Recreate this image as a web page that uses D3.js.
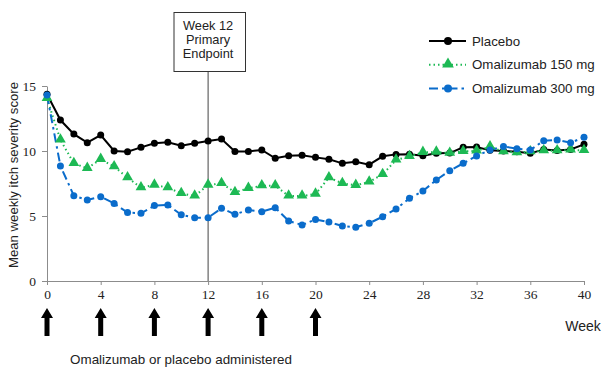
<!DOCTYPE html>
<html>
<head>
<meta charset="utf-8">
<script src="https://cdn.jsdelivr.net/npm/d3@7"></script>
<style>
  body { margin: 0; background: #fff; }
  svg { display: block; }
  .sans { font-family: Arial, "Liberation Sans", sans-serif; fill: #222; }
  .tick text { font-family: "Times New Roman", "Liberation Serif", serif; font-size: 13.5px; fill: #222; }
</style>
</head>
<body>
<svg width="608" height="370"></svg>
<script>
// weeks 0..40
var weeks = d3.range(0, 41);

var placebo = [14.36, 12.38, 11.3, 10.64, 11.23, 10.0, 9.95, 10.28, 10.59, 10.67,
  10.41, 10.59, 10.77, 10.92, 9.97, 9.97, 10.08, 9.44, 9.64, 9.67,
  9.51, 9.37, 9.05, 9.18, 8.95, 9.59, 9.74, 9.75, 9.63, 9.82,
  9.84, 10.28, 10.3, 10.05, 10.0, 9.95, 9.82, 10.12, 10.03, 10.12, 10.51];

var oma150 = [14.05, 10.85, 9.05, 8.67, 9.36, 8.8, 7.95, 7.18, 7.38, 7.18,
  6.74, 6.54, 7.38, 7.51, 6.82, 7.13, 7.33, 7.33, 6.54, 6.54,
  6.69, 7.95, 7.51, 7.36, 7.62, 8.2, 9.31, 9.58, 9.9, 9.92,
  9.84, 9.97, 10.0, 10.33, 9.95, 9.88, 9.95, 10.03, 10.02, 10.08, 10.05];

var oma300 = [14.3, 8.85, 6.56, 6.23, 6.49, 5.97, 5.26, 5.21, 5.8, 5.85,
  5.09, 4.87, 4.87, 5.59, 5.13, 5.46, 5.33, 5.64, 4.62, 4.31,
  4.74, 4.53, 4.23, 4.13, 4.44, 4.95, 5.54, 6.36, 6.92, 7.77,
  8.49, 9.05, 9.62, 10.08, 10.35, 10.18, 10.08, 10.79, 10.85, 10.64, 11.05];

var xTicks = [0, 4, 8, 12, 16, 20, 24, 28, 32, 36, 40];
var yTicks = [0, 5, 10, 15];
var doseWeeks = [0, 4, 8, 12, 16, 20];
var endpointWeek = 12;
var endpointLines = ["Week 12", "Primary", "Endpoint"];

var series = [
  { name: "Placebo", values: placebo, color: "#000000", dash: null, marker: "circle" },
  { name: "Omalizumab 150 mg", values: oma150, color: "#1DB954", dash: "1.5,3", marker: "triangle" },
  { name: "Omalizumab 300 mg", values: oma300, color: "#0A6CCB", dash: "9,4,2.5,4", marker: "circle" }
];

var svg = d3.select("svg");

var x = d3.scaleLinear().domain([0, 40]).range([47, 584]);
var y = d3.scaleLinear().domain([0, 15]).range([281, 86]);

// axes
svg.append("g")
  .attr("transform", "translate(0," + y(0) + ")")
  .call(d3.axisBottom(x).tickValues(xTicks).tickSize(4).tickPadding(4).tickSizeOuter(0));
svg.append("g")
  .attr("transform", "translate(" + x(0) + ",0)")
  .call(d3.axisLeft(y).tickValues(yTicks).tickSize(5).tickPadding(6).tickSizeOuter(0));
svg.selectAll(".domain, .tick line").attr("stroke", "#8c8c8c");

// week 12 endpoint marker
svg.append("line")
  .attr("x1", x(endpointWeek)).attr("x2", x(endpointWeek))
  .attr("y1", 72).attr("y2", y(0))
  .attr("stroke", "#444").attr("stroke-width", 1);
svg.append("rect")
  .attr("x", 174).attr("y", 12.5).attr("width", 71.5).attr("height", 59)
  .attr("fill", "#fff").attr("stroke", "#333").attr("stroke-width", 1);
svg.selectAll(".endpoint")
  .data(endpointLines)
  .enter().append("text")
  .attr("class", "sans endpoint")
  .attr("x", x(endpointWeek)).attr("y", function(d, i) { return 30 + i * 14; })
  .attr("text-anchor", "middle")
  .style("font-size", "12.8px")
  .text(function(d) { return d; });

// lines and markers
var line = d3.line()
  .x(function(d, i) { return x(weeks[i]); })
  .y(function(d) { return y(d); });

var tri = d3.symbol().type(d3.symbolTriangle).size(50);

series.forEach(function(s) {
  svg.append("path")
    .attr("d", line(s.values))
    .attr("fill", "none")
    .attr("stroke", s.color)
    .attr("stroke-width", 2)
    .attr("stroke-dasharray", s.dash);
});

series.forEach(function(s) {
  var g = svg.append("g");
  if (s.marker === "circle") {
    g.selectAll("circle").data(s.values).enter().append("circle")
      .attr("cx", function(d, i) { return x(weeks[i]); })
      .attr("cy", function(d) { return y(d); })
      .attr("r", 3.5)
      .attr("fill", s.color);
  } else {
    g.selectAll("path").data(s.values).enter().append("path")
      .attr("d", tri)
      .attr("transform", function(d, i) { return "translate(" + x(weeks[i]) + "," + (y(d) - 0.5) + ")"; })
      .attr("fill", s.color);
  }
});

// legend
var legend = svg.append("g");
series.forEach(function(s, i) {
  var ly = 41 + i * 23.7;
  legend.append("line")
    .attr("x1", 429).attr("x2", 466).attr("y1", ly).attr("y2", ly)
    .attr("stroke", s.color).attr("stroke-width", 2)
    .attr("stroke-dasharray", s.dash);
  if (s.marker === "circle") {
    legend.append("circle").attr("cx", 448).attr("cy", ly).attr("r", 4).attr("fill", s.color);
  } else {
    legend.append("path").attr("d", d3.symbol().type(d3.symbolTriangle).size(60))
      .attr("transform", "translate(448," + (ly - 0.5) + ")").attr("fill", s.color);
  }
  legend.append("text")
    .attr("class", "sans")
    .attr("x", 472).attr("y", ly)
    .attr("dy", "0.35em")
    .style("font-size", "13.3px")
    .text(s.name);
});

// dose arrows
var arrow = "M0,0 L6,10 L2.5,10 L2.5,28 L-2.5,28 L-2.5,10 L-6,10 Z";
svg.selectAll(".dose")
  .data(doseWeeks)
  .enter().append("path")
  .attr("class", "dose")
  .attr("d", arrow)
  .attr("transform", function(d) { return "translate(" + x(d) + ",308)"; })
  .attr("fill", "#000");

// labels
svg.append("text")
  .attr("class", "sans")
  .attr("transform", "translate(13,175) rotate(-90)")
  .attr("text-anchor", "middle")
  .attr("dy", "0.35em")
  .style("font-size", "13.2px")
  .text("Mean weekly itch severity score");

svg.append("text")
  .attr("class", "sans")
  .attr("x", 583).attr("y", 326)
  .attr("text-anchor", "middle")
  .attr("dy", "0.35em")
  .style("font-size", "14px")
  .text("Week");

svg.append("text")
  .attr("class", "sans")
  .attr("x", 181).attr("y", 359)
  .attr("text-anchor", "middle")
  .attr("dy", "0.35em")
  .style("font-size", "13.4px")
  .text("Omalizumab or placebo administered");
</script>
</body>
</html>
